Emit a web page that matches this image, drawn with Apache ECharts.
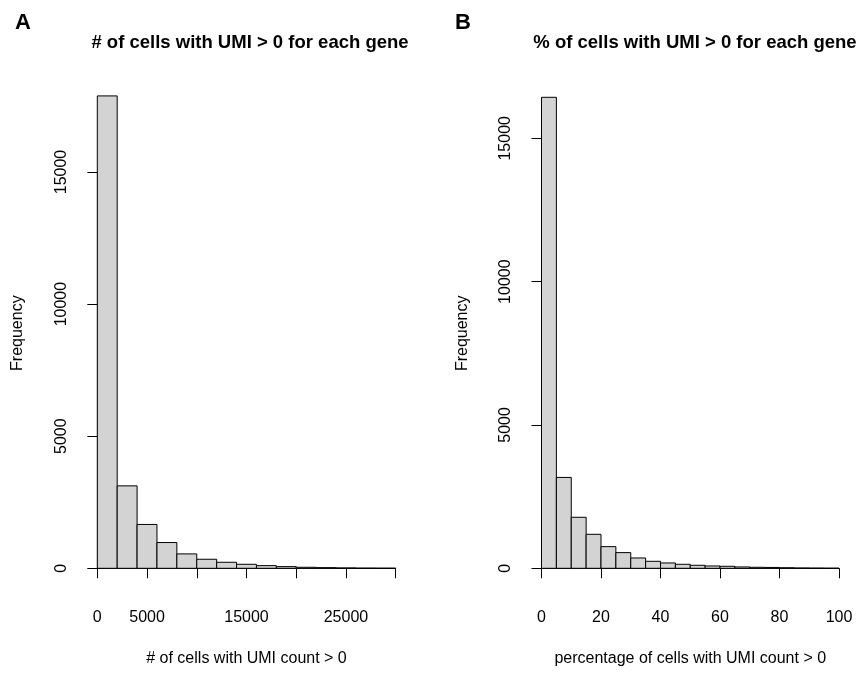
<!DOCTYPE html>
<html>
<head>
<meta charset="utf-8">
<script src="https://cdn.jsdelivr.net/npm/echarts@6/dist/echarts.min.js"></script>
<style>html,body{margin:0;padding:0;background:#fff;}#chart{width:861px;height:673px;}</style>
</head>
<body>
<div id="chart"></div>
<script>
// ---- data ----
const leftBinWidth = 2000;
const leftCounts = [17880, 3120, 1660, 975, 545, 342, 228, 152, 101, 63, 38, 25, 15, 8, 5];
const leftTickLabels = ['0', '5000', '15000', '25000'];

const rightBinWidth = 5;
const rightCounts = [16430, 3170, 1780, 1186, 756, 547, 360, 244, 186, 140, 105, 81, 70, 47, 35, 30, 20, 12, 8, 5];
const rightTickLabels = ['0', '20', '40', '60', '80', '100'];

const yTickLabels = ['0', '5000', '10000', '15000'];

const panelLetters = ['A', 'B'];
const panelTitles = ['# of cells with UMI > 0 for each gene', '% of cells with UMI > 0 for each gene'];
const xTitles = ['# of cells with UMI count > 0', 'percentage of cells with UMI count > 0'];
const yTitle = 'Frequency';

// ---- build ----
const FONT = '"Liberation Sans", Arial, Helvetica, sans-serif';
function bins(counts, w) { return counts.map((c, i) => [i * w, (i + 1) * w, c]); }

function renderBar(params, api) {
  const p0 = api.coord([api.value(0), api.value(2)]);
  const p1 = api.coord([api.value(1), 0]);
  return {
    type: 'rect',
    shape: { x: p0[0], y: p0[1], width: p1[0] - p0[0], height: p1[1] - p0[1] },
    style: { fill: '#D3D3D3', stroke: '#000', lineWidth: 1 }
  };
}

const axisCommon = {
  axisLine: { show: true, lineStyle: { color: '#000', width: 1 } },
  axisTick: { show: true, length: 10, lineStyle: { color: '#000', width: 1 } },
  splitLine: { show: false },
  axisLabel: { color: '#000', fontSize: 16, fontFamily: FONT },
  nameTextStyle: { color: '#000', fontSize: 16, fontFamily: FONT }
};

function xAxis(gi, max, interval, labels, name) {
  return Object.assign({}, JSON.parse(JSON.stringify(axisCommon)), {
    type: 'value', gridIndex: gi, min: 0, max: max, interval: interval,
    offset: 20, name: name, nameLocation: 'middle', nameGap: 62,
    axisLabel: Object.assign({}, axisCommon.axisLabel, {
      margin: 21, showMaxLabel: true, showMinLabel: true, hideOverlap: false,
      formatter: v => labels.indexOf(String(v)) >= 0 ? String(v) : ''
    })
  });
}
function yAxis(gi, offset, nameGap, padLeft) {
  return Object.assign({}, JSON.parse(JSON.stringify(axisCommon)), {
    type: 'value', gridIndex: gi, min: 0, max: 15000, interval: 5000,
    offset: offset, name: yTitle, nameLocation: 'middle', nameGap: nameGap,
    nameTextStyle: Object.assign({}, axisCommon.nameTextStyle, { padding: [0, 0, 0, padLeft] }),
    axisLabel: Object.assign({}, axisCommon.axisLabel, {
      rotate: 90, margin: 16,
      formatter: v => yTickLabels.indexOf(String(v)) >= 0 ? String(v) : ''
    })
  });
}

const option = {
  backgroundColor: '#fff',
  animation: false,
  title: [
    { text: panelLetters[0], left: 10, top: 7, textStyle: { fontSize: 22, fontWeight: 'bold', color: '#000', fontFamily: FONT } },
    { text: panelTitles[0], left: 245, top: 28, textAlign: 'center', textStyle: { fontSize: 18.5, fontWeight: 'bold', color: '#000', fontFamily: FONT } },
    { text: panelLetters[1], left: 450, top: 7, textStyle: { fontSize: 22, fontWeight: 'bold', color: '#000', fontFamily: FONT } },
    { text: panelTitles[1], left: 690, top: 28, textAlign: 'center', textStyle: { fontSize: 18.5, fontWeight: 'bold', color: '#000', fontFamily: FONT } }
  ],
  grid: [
    { left: 97.3, top: 172, width: 298.4, height: 396.3 },
    { left: 541.5, top: 138.3, width: 297.5, height: 430 }
  ],
  xAxis: [
    xAxis(0, 30000, 5000, leftTickLabels, xTitles[0]),
    xAxis(1, 100, 20, rightTickLabels, xTitles[1])
  ],
  yAxis: [
    yAxis(0, 11.6, 60, 74),
    yAxis(1, 12.2, 59, 40)
  ],
  series: [
    { type: 'custom', xAxisIndex: 0, yAxisIndex: 0, clip: false, renderItem: renderBar,
      encode: { x: [0, 1], y: 2 }, data: bins(leftCounts, leftBinWidth) },
    { type: 'custom', xAxisIndex: 1, yAxisIndex: 1, clip: false, renderItem: renderBar,
      encode: { x: [0, 1], y: 2 }, data: bins(rightCounts, rightBinWidth) }
  ]
};
const chart = echarts.init(document.getElementById('chart'), null, { renderer: 'canvas' });
chart.setOption(option);
</script>
</body>
</html>
